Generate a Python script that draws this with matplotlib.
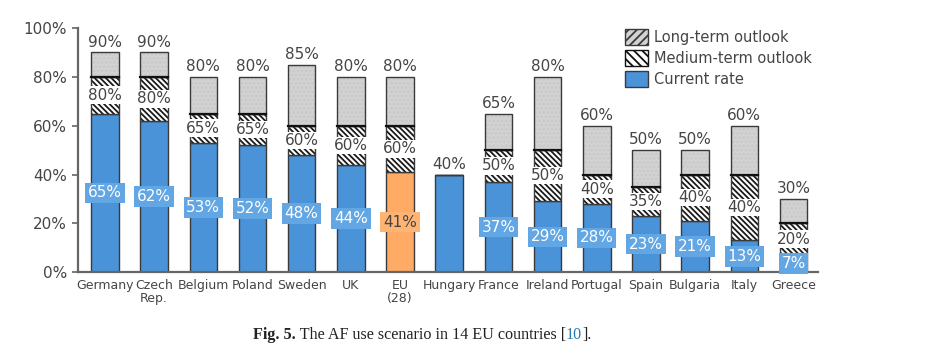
import numpy as np
import matplotlib
matplotlib.use("Agg")
import matplotlib.pyplot as plt
from matplotlib.patches import Patch

paises = ["Germany", "Czech\nRep.", "Belgium", "Poland", "Sweden", "UK", "EU\n(28)",
          "Hungary", "France", "Ireland", "Portugal", "Spain", "Bulgaria", "Italy", "Greece"]
atual = [65, 62, 53, 52, 48, 44, 41, 40, 37, 29, 28, 23, 21, 13, 7]
medio = [80, 80, 65, 65, 60, 60, 60, 40, 50, 50, 40, 35, 40, 40, 20]
longo = [90, 90, 80, 80, 85, 80, 80, 40, 65, 80, 60, 50, 50, 60, 30]

AZUL = "#4b93d9"
AZUL_CX = "#62a6e3"
LARANJA = "#ffab66"
LARANJA_CX = "#ffb474"
CINZA = "#d2d2d2"
BORDA = "#3a3a3a"
TEXTO = "#454545"

plt.rcParams["font.family"] = "DejaVu Sans"
plt.rcParams["hatch.linewidth"] = 1.3

fig = plt.figure(figsize=(9.27, 3.6), dpi=100)
ax = fig.add_axes([0.084, 0.244, 0.798, 0.678])

x = np.arange(len(paises))
w = 0.56
atual = np.array(atual)
medio = np.array(medio)
longo = np.array(longo)
cores = [LARANJA if p.startswith("EU") else AZUL for p in paises]

# barras: atual, medio (hachurado) e longo prazo (cinza)
ax.bar(x, atual, w, color=cores, edgecolor=BORDA, linewidth=1.0, zorder=2)
ax.bar(x, medio - atual, w, bottom=atual, color="white", edgecolor="#1a1a1a",
       hatch="\\\\\\\\\\\\", linewidth=0, zorder=2)
ax.bar(x, medio - atual, w, bottom=atual, fill=False, edgecolor=BORDA, linewidth=1.0, zorder=3)
ax.bar(x, longo - medio, w, bottom=medio, color=CINZA, edgecolor="#c8c8c8",
       hatch="....", linewidth=0, zorder=2)
ax.bar(x, longo - medio, w, bottom=medio, fill=False, edgecolor=BORDA, linewidth=1.0, zorder=3)
for i in range(len(x)):
    if longo[i] > medio[i]:
        ax.plot([x[i] - w / 2, x[i] + w / 2], [medio[i], medio[i]], color="#111111", lw=1.6, zorder=4)

# rotulos
for i in range(len(x)):
    ax.text(x[i], longo[i] + 1.2, f"{longo[i]}%", ha="center", va="bottom",
            fontsize=11, color=TEXTO, zorder=6)
    if longo[i] == atual[i]:
        continue
    if medio[i] > atual[i]:
        ax.text(x[i], (atual[i] + medio[i]) / 2, f"{medio[i]}%", ha="center", va="center",
                fontsize=11, color=TEXTO, zorder=6,
                bbox=dict(boxstyle="square,pad=0.08", fc="white", ec="none"))
    eu = paises[i].startswith("EU")
    ax.text(x[i], atual[i] / 2, f"{atual[i]}%", ha="center", va="center", fontsize=11,
            color=TEXTO if eu else "white", zorder=6,
            bbox=dict(boxstyle="square,pad=0.18", fc=LARANJA_CX if eu else AZUL_CX, ec="none"))

ax.set_ylim(0, 100)
ax.set_xlim(-0.55, 14.49)
ax.set_yticks([0, 20, 40, 60, 80, 100])
ax.set_yticklabels([f"{v}%" for v in range(0, 101, 20)], fontsize=11, color=TEXTO)
ax.set_xticks(x)
ax.set_xticklabels(paises, fontsize=9, color=TEXTO, linespacing=1.0)
ax.tick_params(axis="x", length=0, pad=5)
ax.tick_params(axis="y", length=4, width=1.2, color="#666666", direction="out", pad=4)
for s in ["top", "right"]:
    ax.spines[s].set_visible(False)
for s in ["left", "bottom"]:
    ax.spines[s].set_color("#666666")
    ax.spines[s].set_linewidth(1.6)

# legenda
h = [Patch(facecolor=CINZA, edgecolor=BORDA, hatch="////", label="Long-term outlook"),
     Patch(facecolor="white", edgecolor="#111111", hatch="\\\\\\\\", label="Medium-term outlook"),
     Patch(facecolor=AZUL, edgecolor=BORDA, label="Current rate")]
leg = fig.legend(handles=h, loc="upper left", bbox_to_anchor=(0.668, 0.935), frameon=False,
                 fontsize=10.5, handlelength=1.6, handleheight=1.3, handletextpad=0.4,
                 labelspacing=0.35, borderaxespad=0)
for t in leg.get_texts():
    t.set_color(TEXTO)

# legenda da figura, montada por partes
partes = [("Fig. 5.", "bold", "#222222"),
          (" The AF use scenario in 14 EU countries [", "normal", "#222222"),
          ("10", "normal", "#2a7ab0"),
          ("].", "normal", "#222222")]
r = fig.canvas.get_renderer()
xpos = 253
for txt, peso, cor in partes:
    t = fig.text(xpos / 927, 0.07, txt, family="Liberation Serif", weight=peso,
                 fontsize=11.6, ha="left", va="center", color=cor)
    xpos += t.get_window_extent(r).width

fig.savefig("out.png", dpi=100)
